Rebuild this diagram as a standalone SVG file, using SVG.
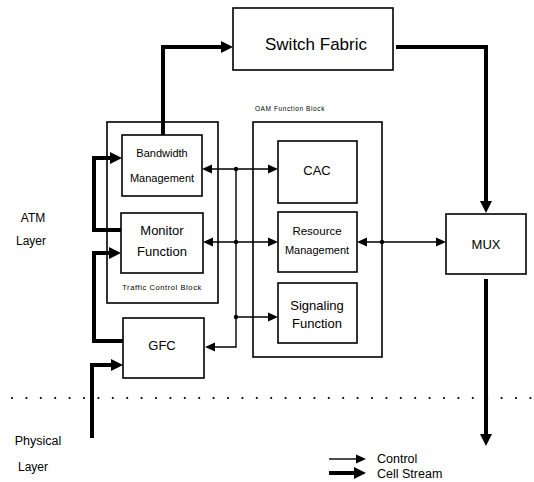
<svg xmlns="http://www.w3.org/2000/svg" width="534" height="482" viewBox="0 0 534 482">
<style>
.box{fill:#fff;stroke:#000;stroke-width:1.6}
.t{font-family:"Liberation Sans",Arial,sans-serif;fill:#000;text-anchor:middle}
.thick{fill:none;stroke:#000;stroke-width:4}
.thin{fill:none;stroke:#000;stroke-width:1.4}
.dot{fill:#000}
</style>
<defs>
<marker id="ah" markerUnits="userSpaceOnUse" markerWidth="12" markerHeight="12" refX="1" refY="6" orient="auto-start-reverse" viewBox="0 0 12 12"><path d="M0,1.5 L10,6 L0,10.5 z" fill="#000"/></marker>
<marker id="ahT" markerUnits="userSpaceOnUse" markerWidth="14" markerHeight="14" refX="1" refY="7" orient="auto-start-reverse" viewBox="0 0 14 14"><path d="M0,1 L12,7 L0,13 z" fill="#000"/></marker>
</defs>
<rect width="534" height="482" fill="#fff"/>

<g id="switch-fabric"><rect class="box" x="233" y="8" width="160" height="62"/><text class="t" x="316" y="50" font-size="17">Switch Fabric</text></g>

<g id="traffic-control-block"><rect class="box" x="107" y="122" width="111" height="181"/><text class="t" x="162" y="290" font-size="7.5" letter-spacing="0.6">Traffic Control Block</text></g>
<g id="bandwidth-management"><rect class="box" x="122" y="135" width="80" height="61"/><text class="t" x="162" y="157" font-size="11">Bandwidth</text><text class="t" x="162" y="182" font-size="11">Management</text></g>
<g id="monitor-function"><rect class="box" x="121" y="213" width="82" height="60"/><text class="t" x="162" y="235" font-size="13">Monitor</text><text class="t" x="162" y="256" font-size="13">Function</text></g>
<g id="gfc"><rect class="box" x="123" y="318" width="81" height="60"/><text class="t" x="162" y="350" font-size="13">GFC</text></g>

<g id="oam-function-block"><rect class="box" x="253" y="122" width="129" height="235"/><text class="t" x="290" y="111" font-size="6.5" letter-spacing="0.6">OAM Function Block</text></g>
<g id="cac"><rect class="box" x="278" y="141" width="79" height="62"/><text class="t" x="317" y="175" font-size="13">CAC</text></g>
<g id="resource-management"><rect class="box" x="278" y="212" width="79" height="60"/><text class="t" x="317" y="235" font-size="11.5">Resource</text><text class="t" x="317" y="254" font-size="11">Management</text></g>
<g id="signaling-function"><rect class="box" x="278" y="283" width="79" height="60"/><text class="t" x="317" y="310" font-size="13">Signaling</text><text class="t" x="317" y="328" font-size="13">Function</text></g>

<g id="mux"><rect class="box" x="446" y="214" width="80" height="60"/><text class="t" x="486" y="249" font-size="13">MUX</text></g>

<g id="labels">
<text class="t" x="33" y="222" font-size="12">ATM</text>
<text class="t" x="31" y="245" font-size="12">Layer</text>
<text class="t" x="38" y="445" font-size="12.5">Physical</text>
<text class="t" x="33" y="471" font-size="12">Layer</text>
<text class="t" x="377" y="463" font-size="12.5" style="text-anchor:start">Control</text>
<text class="t" x="377" y="478" font-size="12.5" style="text-anchor:start">Cell Stream</text>
</g>

<g id="connectors">
<path class="thick" d="M163,135 V47 H222" marker-end="url(#ahT)"/>
<path class="thick" d="M396,47 H486 V202" marker-end="url(#ahT)"/>
<path class="thick" d="M486,279 V435" marker-end="url(#ahT)"/>
<path class="thick" d="M121,230 H94 V158 H111" marker-end="url(#ahT)"/>
<path class="thick" d="M123,341 H94 V253 H110" marker-end="url(#ahT)"/>
<path class="thick" d="M92,438 V365 H112" marker-end="url(#ahT)"/>
<path class="thick" d="M329,473 H355" marker-end="url(#ahT)"/>

<path class="thin" d="M211,169 H269" marker-start="url(#ah)" marker-end="url(#ah)"/>
<path class="thin" d="M212,242 H269" marker-start="url(#ah)" marker-end="url(#ah)"/>
<path class="thin" d="M236,169 V347 H214" marker-end="url(#ah)"/>
<path class="thin" d="M236,317 H269" marker-end="url(#ah)"/>
<path class="thin" d="M366,242 H437" marker-start="url(#ah)" marker-end="url(#ah)"/>
<path class="thin" d="M329,459 H357" marker-end="url(#ah)"/>
<circle class="dot" cx="236" cy="169" r="2.2"/>
<circle class="dot" cx="236" cy="242" r="2.2"/>
<circle class="dot" cx="236" cy="317" r="2.2"/>
<circle class="dot" cx="382" cy="242" r="2.2"/>
</g>

<path id="layer-divider" d="M12,398 H532" fill="none" stroke="#000" stroke-width="2.2" stroke-linecap="round" stroke-dasharray="0 14.4"/>
</svg>
